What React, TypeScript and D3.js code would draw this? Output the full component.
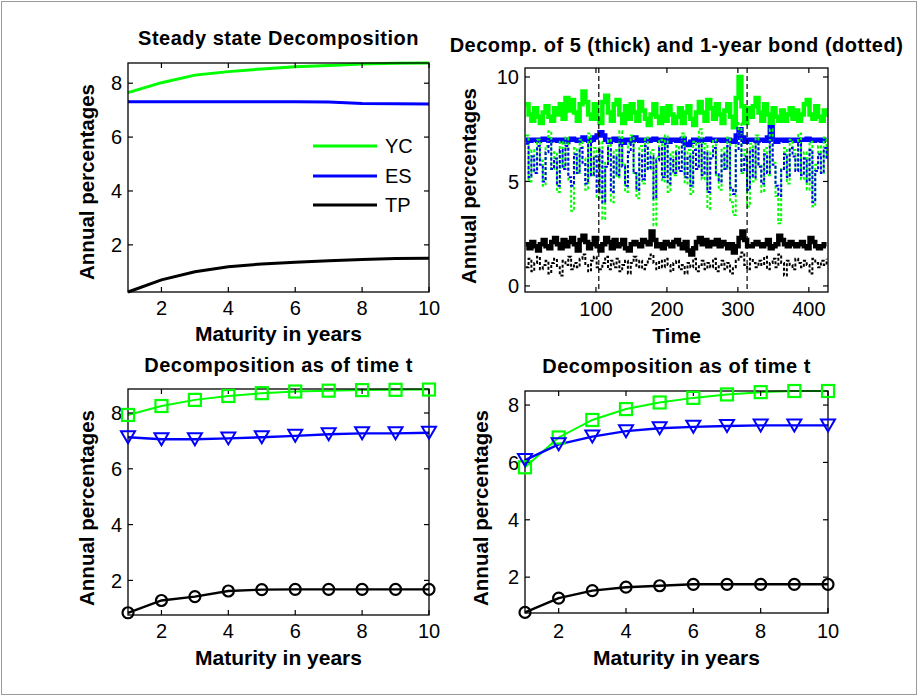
import React from 'react';
import * as d3 from 'd3';

// ---------- Data ----------
const maturities = [1, 2, 3, 4, 5, 6, 7, 8, 9, 10];
const legendLabels = ['YC', 'ES', 'TP'];

// Steady state decomposition
const ssYC = [7.65, 8.02, 8.3, 8.43, 8.53, 8.61, 8.66, 8.71, 8.74, 8.75];
const ssES = [7.31, 7.31, 7.31, 7.31, 7.31, 7.31, 7.3, 7.25, 7.24, 7.23];
const ssTP = [0.25, 0.7, 1.0, 1.19, 1.29, 1.35, 1.41, 1.46, 1.49, 1.5];

// Decomposition as of time t (left)
const blYC = [7.93, 8.25, 8.47, 8.61, 8.71, 8.77, 8.8, 8.82, 8.83, 8.84];
const blES = [7.13, 7.06, 7.06, 7.09, 7.13, 7.18, 7.24, 7.27, 7.27, 7.29];
const blTP = [0.84, 1.28, 1.42, 1.62, 1.67, 1.68, 1.68, 1.68, 1.68, 1.68];

// Decomposition as of time t (right)
const brYC = [5.83, 6.87, 7.48, 7.86, 8.09, 8.25, 8.37, 8.45, 8.49, 8.49];
const brES = [6.08, 6.63, 6.9, 7.09, 7.19, 7.24, 7.27, 7.29, 7.29, 7.29];
const brTP = [0.77, 1.27, 1.53, 1.65, 1.7, 1.75, 1.75, 1.75, 1.75, 1.75];

// Time series (sampled every 4 periods, t = 1, 5, 9, ...)
const timeStart = 1;
const timeStep = 4;
const yc5 = [
  8.7, 8.2, 7.9, 8.5, 8.1, 7.8, 8.3, 8.6, 8.1, 7.9, 8.5, 8.2, 8.7, 8.0, 9.0, 8.4, 8.9, 8.3, 7.9, 8.7, 9.3, 8.8, 8.2, 8.0, 8.7, 8.0, 7.8,
  8.8, 9.1, 8.3, 7.9, 8.7, 8.9, 8.2, 7.8, 8.6, 8.0, 8.7, 8.3, 7.9, 8.8, 8.4, 8.0, 7.7, 8.2, 8.7, 8.1, 7.8, 8.5, 7.9, 8.6, 8.2, 7.8,
  8.1, 8.5, 7.8, 8.3, 8.6, 8.0, 7.7, 8.3, 8.8, 8.3, 7.9, 8.9, 8.5, 8.0, 8.7, 8.2, 7.8, 8.4, 8.7, 8.1, 7.6, 9.0, 10.0, 8.6, 7.8, 8.5,
  8.1, 8.6, 9.0, 8.3, 7.9, 8.7, 8.2, 7.8, 8.5, 8.1, 7.9, 8.4, 7.9, 8.2, 8.5, 8.0, 8.4, 7.9, 8.2, 8.7, 8.9, 8.2, 8.0, 8.6, 8.1, 7.9, 8.4, 8.1,
];
const es5 = [
  7.0, 6.95, 7.0, 7.0, 6.95, 7.0, 7.05, 7.0, 6.95, 7.0, 7.0, 6.95, 7.0, 7.0, 6.9, 7.0, 7.05, 7.0, 6.95, 7.0, 7.1, 7.0, 6.95, 7.0, 7.1, 7.2, 7.35,
  7.2, 7.0, 6.9, 7.0, 7.05, 6.95, 7.0, 6.85, 7.0, 7.0, 6.95, 7.1, 7.0, 6.95, 7.0, 7.0, 6.95, 7.0, 7.05, 7.0, 6.95, 7.0, 7.0, 6.9, 7.0, 7.0,
  6.95, 7.0, 7.05, 6.8, 6.75, 6.9, 7.0, 7.0, 6.95, 7.0, 7.0, 7.05, 7.0, 6.95, 7.0, 7.0, 6.95, 7.0, 7.0, 6.95, 6.9, 7.2, 7.5, 7.1, 6.9, 7.0,
  7.0, 7.0, 6.95, 7.0, 7.0, 6.95, 7.1, 7.6, 7.0, 6.9, 7.0, 7.0, 6.95, 7.0, 7.0, 7.0, 6.95, 7.0, 7.0, 7.0, 7.05, 7.0, 6.95, 7.0, 7.0, 6.95, 7.0, 7.0,
];
const tp5 = [
  2.0, 1.8, 2.1, 1.9, 1.7, 2.0, 2.2, 1.9, 1.8, 2.1, 2.3, 2.0, 1.8, 2.2, 1.9, 2.1, 2.3, 2.0, 1.7, 2.2, 2.4, 2.1, 1.8, 2.0, 2.3, 1.9, 1.7,
  2.0, 2.3, 2.1, 1.8, 2.2, 1.9, 2.0, 2.2, 1.8, 1.7, 2.0, 2.1, 2.0, 1.9, 2.2, 2.1, 2.0, 2.6, 2.2, 1.9, 2.0, 1.8, 2.1, 2.0, 1.9, 2.1,
  2.2, 2.0, 1.8, 2.1, 1.7, 1.5, 1.8, 2.1, 2.3, 2.0, 2.2, 1.9, 2.1, 2.0, 2.2, 1.9, 2.1, 2.0, 1.8, 2.0, 1.6, 1.9, 2.3, 2.6, 2.2, 1.9,
  1.9, 2.0, 2.1, 2.0, 1.9, 2.0, 2.2, 1.8, 1.9, 2.0, 2.4, 2.2, 2.0, 1.9, 2.1, 2.0, 1.9, 2.0, 2.1, 1.9, 1.8, 2.3, 2.1, 1.9, 1.8, 1.9, 2.0, 2.0,
];
const yc1 = [
  7.2, 5.0, 6.5, 5.4, 7.0, 6.0, 4.8, 6.7, 7.4, 5.6, 6.4, 4.5, 6.9, 5.7, 7.1, 5.0, 3.6, 6.6, 5.4, 7.0, 6.1, 4.6, 7.3, 5.3, 6.6, 4.2, 6.9,
  3.2, 5.9, 7.0, 4.0, 6.5, 5.2, 7.4, 5.8, 4.5, 6.8, 7.2, 5.4, 4.2, 6.7, 4.9, 7.1, 5.6, 6.5, 2.9, 6.2, 7.0, 5.0, 7.2, 4.5, 6.4, 5.3,
  6.7, 5.5, 7.3, 4.9, 6.5, 4.4, 6.9, 5.7, 7.5, 5.1, 6.8, 3.7, 6.4, 7.0, 5.3, 4.6, 6.6, 5.6, 7.1, 4.0, 3.4, 6.8, 7.8, 5.4, 6.5, 3.8,
  6.8, 5.0, 7.2, 5.8, 4.5, 6.6, 5.3, 7.5, 5.9, 4.3, 3.0, 5.6, 6.6, 4.9, 7.0, 6.5, 5.5, 7.3, 5.1, 6.4, 4.6, 6.9, 3.8, 5.8, 6.7, 5.4, 7.1, 6.2,
];
const es1 = [
  6.8, 5.2, 6.2, 5.4, 6.7, 5.8, 5.0, 6.4, 6.9, 5.6, 6.1, 4.8, 6.5, 5.6, 6.7, 5.2, 4.8, 6.3, 5.4, 6.6, 5.9, 4.9, 6.8, 5.3, 6.2, 4.5, 6.5,
  4.0, 5.7, 6.6, 4.5, 6.2, 5.3, 6.9, 5.7, 4.8, 6.4, 6.8, 5.4, 4.6, 6.3, 5.1, 6.7, 5.6, 6.2, 4.2, 6.0, 6.6, 5.2, 6.8, 4.9, 6.1, 5.4,
  6.4, 5.5, 6.9, 5.2, 6.2, 4.8, 6.5, 5.6, 7.0, 5.3, 6.4, 4.5, 6.1, 6.6, 5.4, 5.0, 6.3, 5.6, 6.7, 4.7, 4.4, 6.5, 7.3, 5.5, 6.2, 4.6,
  6.5, 5.2, 6.9, 5.7, 4.9, 6.3, 5.4, 7.1, 5.8, 4.8, 4.3, 5.6, 6.3, 5.2, 6.6, 6.2, 5.5, 6.8, 5.3, 6.1, 5.0, 6.5, 4.0, 5.5, 6.3, 5.4, 6.6, 6.0,
];
const tp1 = [
  0.9, 1.3, 0.7, 1.1, 1.4, 0.8, 1.0, 1.2, 0.6, 1.1, 1.3, 0.9, 0.5, 1.2, 1.0, 1.4, 0.8, 1.1, 0.9, 1.3, 1.5, 1.0, 0.7, 1.2, 1.4, 0.9, 0.8,
  1.1, 1.4, 0.8, 1.2, 0.9, 1.3, 0.7, 1.0, 1.2, 0.6, 1.1, 1.4, 0.9, 1.2, 0.8, 1.0, 1.3, 1.5, 1.1, 0.8, 1.2, 0.9, 1.3, 1.0, 0.7, 1.1,
  1.2, 0.8, 1.0, 0.6, 1.1, 0.9, 1.3, 0.7, 1.0, 1.2, 0.8, 1.1, 0.9, 1.3, 0.7, 1.0, 1.2, 0.8, 1.1, 0.6, 0.9, 1.2, 1.4, 1.6, 1.0, 0.8,
  1.3, 1.1, 0.9, 1.2, 1.0, 1.4, 0.8, 1.1, 1.3, 0.9, 1.5, 1.1, 0.5, 1.2, 1.0, 0.8, 1.3, 1.1, 0.9, 1.2, 1.0, 0.6, 1.3, 1.1, 0.9, 1.2, 1.0, 1.3,
];
const markerDates = [104, 313];

const matTicks = [2, 4, 6, 8, 10];
const pctTicks = [2, 4, 6, 8];
const timeTicks = [100, 200, 300, 400];
const tsPctTicks = [0, 5, 10];

// ---------- Styling ----------
const GREEN = '#00ff00';
const BLUE = '#0000ff';
const BLACK = '#000000';
const FONT = '"Liberation Sans", Arial, Helvetica, sans-serif';

type Box = { l: number; r: number; t: number; b: number };

function Axes({
  box, x, y, xTicks, yTicks, title, titleY, xLabel, xLabelY, yLabelX, yLabelY, tickLabelY,
}: any) {
  const tl = 5;
  return (
    <g>
      <rect x={box.l} y={box.t} width={box.r - box.l} height={box.b - box.t} fill="none" stroke="#000" strokeWidth={1.3} />
      {xTicks.map((v: number) => (
        <g key={'x' + v}>
          <line x1={x(v)} x2={x(v)} y1={box.b} y2={box.b - tl} stroke="#000" strokeWidth={1.2} />
          <line x1={x(v)} x2={x(v)} y1={box.t} y2={box.t + tl} stroke="#000" strokeWidth={1.2} />
          <text x={x(v)} y={tickLabelY} textAnchor="middle" fontFamily={FONT} fontSize={20} fill="#000">{v}</text>
        </g>
      ))}
      {yTicks.map((v: number) => (
        <g key={'y' + v}>
          <line x1={box.l} x2={box.l + tl} y1={y(v)} y2={y(v)} stroke="#000" strokeWidth={1.2} />
          <line x1={box.r} x2={box.r - tl} y1={y(v)} y2={y(v)} stroke="#000" strokeWidth={1.2} />
          <text x={box.l - 6} y={y(v)} dy="0.36em" textAnchor="end" fontFamily={FONT} fontSize={20} fill="#000">{v}</text>
        </g>
      ))}
      <text x={(box.l + box.r) / 2} y={titleY} textAnchor="middle" fontFamily={FONT} fontSize={20} letterSpacing={0.5} fontWeight="bold" fill="#000">{title}</text>
      <text x={(box.l + box.r) / 2} y={xLabelY} textAnchor="middle" fontFamily={FONT} fontSize={21} fontWeight="bold" fill="#000">{xLabel}</text>
      <text transform={`translate(${yLabelX},${yLabelY}) rotate(-90)`} textAnchor="middle" fontFamily={FONT} fontSize={20.5} fontWeight="bold" fill="#000">Annual percentages</text>
    </g>
  );
}

function Square({ cx, cy, color }: any) {
  const s = 12;
  return <rect x={cx - s / 2} y={cy - s / 2} width={s} height={s} fill="none" stroke={color} strokeWidth={2.2} />;
}
function TriDown({ cx, cy, color }: any) {
  const w = 7;
  const h = 6;
  return <path d={`M${cx - w},${cy - h}L${cx + w},${cy - h}L${cx},${cy + h}Z`} fill="none" stroke={color} strokeWidth={2} />;
}
function Circ({ cx, cy, color }: any) {
  return <circle cx={cx} cy={cy} r={5.5} fill="none" stroke={color} strokeWidth={2.2} />;
}

function MarkerPanel({ box, yDomain, yc, es, tp, title, titleY, xLabelY, yLabelX, yLabelY, tickLabelY }: any) {
  const x = d3.scaleLinear().domain([1, 10]).range([box.l, box.r]);
  const y = d3.scaleLinear().domain(yDomain).range([box.b, box.t]);
  const line = d3.line<number>().x((_, i) => x(maturities[i])).y((d) => y(d));
  return (
    <g>
      <path d={line(yc) || ''} fill="none" stroke={GREEN} strokeWidth={2} />
      <path d={line(es) || ''} fill="none" stroke={BLUE} strokeWidth={2.4} />
      <path d={line(tp) || ''} fill="none" stroke={BLACK} strokeWidth={2.4} />
      <Axes box={box} x={x} y={y} xTicks={matTicks} yTicks={pctTicks} title={title} titleY={titleY}
        xLabel="Maturity in years" xLabelY={xLabelY} yLabelX={yLabelX} yLabelY={yLabelY} tickLabelY={tickLabelY} />
      {yc.map((d: number, i: number) => <Square key={'s' + i} cx={x(maturities[i])} cy={y(d)} color={GREEN} />)}
      {es.map((d: number, i: number) => <TriDown key={'t' + i} cx={x(maturities[i])} cy={y(d)} color={BLUE} />)}
      {tp.map((d: number, i: number) => <Circ key={'c' + i} cx={x(maturities[i])} cy={y(d)} color={BLACK} />)}
    </g>
  );
}

function SteadyPanel() {
  const box: Box = { l: 128, r: 429, t: 63, b: 292 };
  const x = d3.scaleLinear().domain([1, 10]).range([box.l, box.r]);
  const y = d3.scaleLinear().domain([0.25, 8.75]).range([box.b, box.t]);
  const line = d3.line<number>().x((_, i) => x(maturities[i])).y((d) => y(d));
  const series = [
    { data: ssYC, color: GREEN },
    { data: ssES, color: BLUE },
    { data: ssTP, color: BLACK },
  ];
  const legendY = [146, 176, 205];
  return (
    <g>
      {series.map((s, i) => (
        <path key={i} d={line(s.data) || ''} fill="none" stroke={s.color} strokeWidth={3} />
      ))}
      <Axes box={box} x={x} y={y} xTicks={matTicks} yTicks={pctTicks} title="Steady state Decomposition" titleY={45}
        xLabel="Maturity in years" xLabelY={341} yLabelX={94} yLabelY={182} tickLabelY={315} />
      {series.map((s, i) => (
        <g key={'lg' + i}>
          <line x1={313} x2={377} y1={legendY[i]} y2={legendY[i]} stroke={s.color} strokeWidth={3} />
          <text x={385} y={legendY[i]} dy="0.36em" fontFamily={FONT} fontSize={20} fill="#000">{legendLabels[i]}</text>
        </g>
      ))}
    </g>
  );
}

function TimePanel() {
  const box: Box = { l: 525, r: 828, t: 68, b: 292 };
  const x = d3.scaleLinear().domain([0, 427]).range([box.l, box.r]);
  const y = d3.scaleLinear().domain([-0.29, 10.43]).range([box.b, box.t]);
  const line = d3.line<number>()
    .x((_, i) => x(timeStart + i * timeStep))
    .y((d) => y(d))
    .curve(d3.curveStepAfter);
  const thick = [
    { data: yc5, color: GREEN },
    { data: es5, color: BLUE },
    { data: tp5, color: BLACK },
  ];
  const dotted = [
    { data: yc1, color: GREEN },
    { data: es1, color: BLUE },
    { data: tp1, color: BLACK },
  ];
  return (
    <g>
      <defs>
        <clipPath id="tsclip">
          <rect x={box.l} y={box.t} width={box.r - box.l} height={box.b - box.t} />
        </clipPath>
      </defs>
      <g clipPath="url(#tsclip)">
        {thick.map((s, i) => (
          <path key={'k' + i} d={line(s.data) || ''} fill="none" stroke={s.color} strokeWidth={4.5} />
        ))}
        {dotted.map((s, i) => (
          <path key={'d' + i} d={line(s.data) || ''} fill="none" stroke={s.color} strokeWidth={2} strokeDasharray="3,2" />
        ))}
        {markerDates.map((t) => (
          <line key={'m' + t} x1={x(t)} x2={x(t)} y1={box.t} y2={box.b} stroke="#000" strokeWidth={1.2} strokeDasharray="5,3" />
        ))}
      </g>
      <Axes box={box} x={x} y={y} xTicks={timeTicks} yTicks={tsPctTicks}
        title="Decomp. of 5 (thick) and 1-year bond (dotted)" titleY={52}
        xLabel="Time" xLabelY={343} yLabelX={476} yLabelY={186} tickLabelY={316} />
    </g>
  );
}

export default function App() {
  return (
    <svg width={920} height={698} viewBox="0 0 920 698"
      style={{ position: 'absolute', left: 0, top: 0, background: '#fff' }}>
      <rect x={0} y={0} width={920} height={698} fill="#fff" />
      <rect x={1.5} y={1.5} width={915} height={693} fill="none" stroke="#9a9a9a" strokeWidth={1} />
      <SteadyPanel />
      <TimePanel />
      <MarkerPanel box={{ l: 128, r: 429, t: 389, b: 615 }} yDomain={[0.76, 8.86]} yc={blYC} es={blES} tp={blTP}
        title="Decomposition as of time t" titleY={372} xLabelY={665} yLabelX={94} yLabelY={508} tickLabelY={638} />
      <MarkerPanel box={{ l: 525, r: 828, t: 391, b: 613 }} yDomain={[0.75, 8.49]} yc={brYC} es={brES} tp={brTP}
        title="Decomposition as of time t" titleY={373} xLabelY={665} yLabelX={488} yLabelY={508} tickLabelY={638} />
    </svg>
  );
}
